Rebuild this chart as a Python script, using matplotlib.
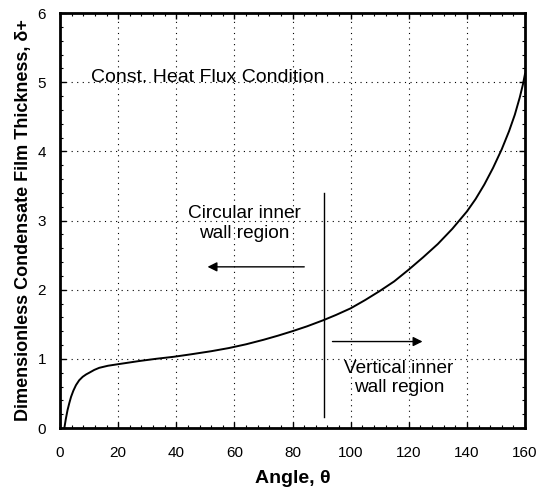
import matplotlib
matplotlib.use("Agg")
import matplotlib.pyplot as plt
from matplotlib.ticker import MultipleLocator

plt.rcParams['font.family'] = ['Liberation Sans', 'DejaVu Sans']

angle = [1.5, 2.0, 2.6, 3.2, 3.8, 4.6, 5.5, 6.6, 7.8, 9.0, 10.1, 11.8, 13.5, 16.5, 20.4, 27.2,
         33, 39.2, 45, 52, 58, 64, 70, 75, 80, 85, 90.7, 95, 100, 105, 110, 115, 120,
         125, 130, 135, 140, 143, 146, 149, 152, 154.5, 156.5, 158.2, 159.3, 160]
delta = [0.0, 0.13, 0.26, 0.36, 0.45, 0.54, 0.62, 0.69, 0.74, 0.775, 0.80, 0.84, 0.87, 0.90, 0.925, 0.968,
         1.0, 1.03, 1.065, 1.11, 1.155, 1.21, 1.275, 1.335, 1.40, 1.47, 1.56, 1.635, 1.73, 1.85, 1.98, 2.12,
         2.29, 2.47, 2.66, 2.88, 3.13, 3.31, 3.52, 3.76, 4.03, 4.29, 4.53, 4.78, 4.97, 5.12]

divider_x = [91, 91]
divider_y = [0.16, 3.4]

fig = plt.figure(figsize=(5.42, 4.88), dpi=100)
ax = fig.add_axes([60/542, 1 - 428/488, 465/542, 415/488])

ax.plot(angle, delta, color='black', lw=1.4)
ax.plot(divider_x, divider_y, color='black', lw=1.0)

ax.annotate('', xy=(49.8, 2.33), xytext=(85, 2.33),
            arrowprops=dict(arrowstyle='-|>', color='black', lw=1.0, mutation_scale=14))
ax.annotate('', xy=(125.7, 1.25), xytext=(92.8, 1.25),
            arrowprops=dict(arrowstyle='-|>', color='black', lw=1.0, mutation_scale=14))

ax.text(10.8, 5.07, 'Const. Heat Flux Condition', fontsize=14, va='center', ha='left')
ax.text(63.5, 2.96, 'Circular inner\nwall region', fontsize=13.7, va='center', ha='center',
        linespacing=1.2)
ax.text(116.7, 0.72, 'Vertical inner\nwall region', fontsize=13.7, va='center', ha='center',
        linespacing=1.2)

ax.set_xlim(0, 160)
ax.set_ylim(0, 6)
ax.xaxis.set_major_locator(MultipleLocator(20))
ax.xaxis.set_minor_locator(MultipleLocator(4))
ax.yaxis.set_major_locator(MultipleLocator(1))
ax.yaxis.set_minor_locator(MultipleLocator(0.2))
ax.tick_params(which='both', direction='in', top=True, right=True, labelsize=11)
ax.tick_params(which='major', length=4, width=1)
ax.tick_params(which='minor', length=2.5, width=0.8)
ax.tick_params(axis='x', pad=13)
ax.tick_params(axis='y', pad=10)
ax.grid(True, which='major', linestyle=(0, (1, 4)), color='black', lw=0.8)
for s in ax.spines.values():
    s.set_linewidth(2)

ax.set_xlabel('Angle, θ', fontsize=14, fontweight='bold', labelpad=7)
ax.set_ylabel('Dimensionless Condensate Film Thickness, δ+', fontsize=13, fontweight='bold',
              labelpad=4)

fig.savefig('out.png', dpi=100)
